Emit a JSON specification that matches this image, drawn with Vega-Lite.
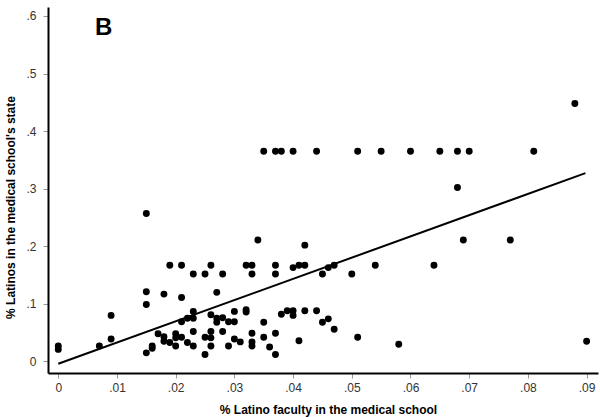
{
  "$schema": "https://vega.github.io/schema/vega-lite/v6.json",
  "autosize": {"type": "none"},
  "padding": {"left": 48, "top": 7, "right": 2, "bottom": 44},
  "width": 550,
  "height": 366,
  "background": "white",
  "title": {"text": "B", "anchor": "start", "frame": "group", "orient": "top", "fontSize": 24, "fontWeight": "bold", "font": "Liberation Sans", "color": "black", "baseline": "alphabetic", "offset": 0, "dx": 47, "dy": 52},
  "config": {
    "view": {"stroke": null},
    "axis": {"grid": false, "labelFont": "Liberation Sans", "titleFont": "Liberation Sans", "labelFontSize": 12, "titleFontSize": 12, "titleFontWeight": "bold", "labelColor": "#333333", "titleColor": "black", "domainColor": "black", "domainWidth": 2, "tickColor": "#999999", "tickWidth": 1, "tickSize": 5}
  },
  "datasets": {
    "points": [
      {"faculty": 0, "state": 0.027}, {"faculty": 0, "state": 0.021}, {"faculty": 0.007, "state": 0.027},
      {"faculty": 0.009, "state": 0.080}, {"faculty": 0.009, "state": 0.039},
      {"faculty": 0.015, "state": 0.257}, {"faculty": 0.015, "state": 0.121}, {"faculty": 0.015, "state": 0.099}, {"faculty": 0.015, "state": 0.015},
      {"faculty": 0.016, "state": 0.027}, {"faculty": 0.016, "state": 0.023}, {"faculty": 0.017, "state": 0.048},
      {"faculty": 0.018, "state": 0.117}, {"faculty": 0.018, "state": 0.043}, {"faculty": 0.018, "state": 0.035},
      {"faculty": 0.019, "state": 0.167}, {"faculty": 0.019, "state": 0.033},
      {"faculty": 0.020, "state": 0.048}, {"faculty": 0.020, "state": 0.041}, {"faculty": 0.020, "state": 0.027},
      {"faculty": 0.021, "state": 0.167}, {"faculty": 0.021, "state": 0.111}, {"faculty": 0.021, "state": 0.069}, {"faculty": 0.021, "state": 0.042},
      {"faculty": 0.022, "state": 0.075}, {"faculty": 0.022, "state": 0.033},
      {"faculty": 0.023, "state": 0.152}, {"faculty": 0.023, "state": 0.087}, {"faculty": 0.023, "state": 0.075}, {"faculty": 0.023, "state": 0.052}, {"faculty": 0.023, "state": 0.027},
      {"faculty": 0.025, "state": 0.152}, {"faculty": 0.025, "state": 0.042}, {"faculty": 0.025, "state": 0.012},
      {"faculty": 0.026, "state": 0.167}, {"faculty": 0.026, "state": 0.081}, {"faculty": 0.026, "state": 0.052}, {"faculty": 0.026, "state": 0.041}, {"faculty": 0.026, "state": 0.027},
      {"faculty": 0.027, "state": 0.120}, {"faculty": 0.027, "state": 0.075}, {"faculty": 0.027, "state": 0.068},
      {"faculty": 0.028, "state": 0.152}, {"faculty": 0.028, "state": 0.076}, {"faculty": 0.028, "state": 0.052},
      {"faculty": 0.029, "state": 0.069}, {"faculty": 0.029, "state": 0.027},
      {"faculty": 0.030, "state": 0.087}, {"faculty": 0.030, "state": 0.069}, {"faculty": 0.030, "state": 0.039}, {"faculty": 0.031, "state": 0.034},
      {"faculty": 0.032, "state": 0.167}, {"faculty": 0.032, "state": 0.090}, {"faculty": 0.032, "state": 0.086},
      {"faculty": 0.033, "state": 0.167}, {"faculty": 0.033, "state": 0.152}, {"faculty": 0.033, "state": 0.049}, {"faculty": 0.033, "state": 0.034}, {"faculty": 0.033, "state": 0.027},
      {"faculty": 0.034, "state": 0.211},
      {"faculty": 0.035, "state": 0.068}, {"faculty": 0.035, "state": 0.042}, {"faculty": 0.036, "state": 0.025},
      {"faculty": 0.037, "state": 0.167}, {"faculty": 0.037, "state": 0.152}, {"faculty": 0.037, "state": 0.049}, {"faculty": 0.037, "state": 0.012},
      {"faculty": 0.038, "state": 0.082}, {"faculty": 0.039, "state": 0.088}, {"faculty": 0.040, "state": 0.088}, {"faculty": 0.040, "state": 0.080}, {"faculty": 0.040, "state": 0.163},
      {"faculty": 0.041, "state": 0.167}, {"faculty": 0.042, "state": 0.167}, {"faculty": 0.042, "state": 0.202}, {"faculty": 0.041, "state": 0.036}, {"faculty": 0.042, "state": 0.088},
      {"faculty": 0.044, "state": 0.088}, {"faculty": 0.045, "state": 0.152}, {"faculty": 0.045, "state": 0.068},
      {"faculty": 0.046, "state": 0.074}, {"faculty": 0.046, "state": 0.163}, {"faculty": 0.047, "state": 0.167}, {"faculty": 0.047, "state": 0.056},
      {"faculty": 0.050, "state": 0.152}, {"faculty": 0.051, "state": 0.042}, {"faculty": 0.054, "state": 0.167}, {"faculty": 0.058, "state": 0.030},
      {"faculty": 0.064, "state": 0.167}, {"faculty": 0.068, "state": 0.302}, {"faculty": 0.069, "state": 0.211}, {"faculty": 0.077, "state": 0.211},
      {"faculty": 0.088, "state": 0.448}, {"faculty": 0.090, "state": 0.035},
      {"faculty": 0.035, "state": 0.365}, {"faculty": 0.037, "state": 0.365}, {"faculty": 0.038, "state": 0.365}, {"faculty": 0.040, "state": 0.365},
      {"faculty": 0.044, "state": 0.365}, {"faculty": 0.051, "state": 0.365}, {"faculty": 0.055, "state": 0.365}, {"faculty": 0.060, "state": 0.365},
      {"faculty": 0.065, "state": 0.365}, {"faculty": 0.068, "state": 0.365}, {"faculty": 0.070, "state": 0.365}, {"faculty": 0.081, "state": 0.365}
    ],
    "fit": [
      {"faculty": 0, "state": -0.004},
      {"faculty": 0.0898, "state": 0.327}
    ]
  },
  "layer": [
    {
      "data": {"name": "points"},
      "mark": {"type": "point", "filled": true, "color": "black", "opacity": 1, "size": 48, "shape": "circle"},
      "encoding": {
        "x": {"field": "faculty", "type": "quantitative", "scale": {"domain": [-0.00175, 0.09194], "nice": false, "zero": false},
          "axis": {"title": "% Latino faculty in the medical school", "values": [0, 0.01, 0.02, 0.03, 0.04, 0.05, 0.06, 0.07, 0.08, 0.09], "labelExpr": "datum.value == 0 ? '0' : replace(format(datum.value, '.2~f'), '0.', '.')", "labelPadding": 4, "titleX": 280, "titleY": 36, "titleBaseline": "middle", "titleAnchor": "middle", "labelFlush": false}},
        "y": {"field": "state", "type": "quantitative", "scale": {"domain": [-0.02, 0.6155], "nice": false, "zero": false},
          "axis": {"title": "% Latinos in the medical school's state", "values": [0, 0.1, 0.2, 0.3, 0.4, 0.5, 0.6], "labelExpr": "datum.value == 0 ? '0' : replace(format(datum.value, '.1~f'), '0.', '.')", "labelPadding": 7, "titleX": -38, "titleY": 200, "titleAngle": 270, "titleBaseline": "middle", "titleAlign": "center", "labelFlush": false}}
      }
    },
    {
      "data": {"name": "fit"},
      "mark": {"type": "line", "color": "black", "strokeWidth": 2},
      "encoding": {
        "x": {"field": "faculty", "type": "quantitative"},
        "y": {"field": "state", "type": "quantitative"}
      }
    }
  ]
}
